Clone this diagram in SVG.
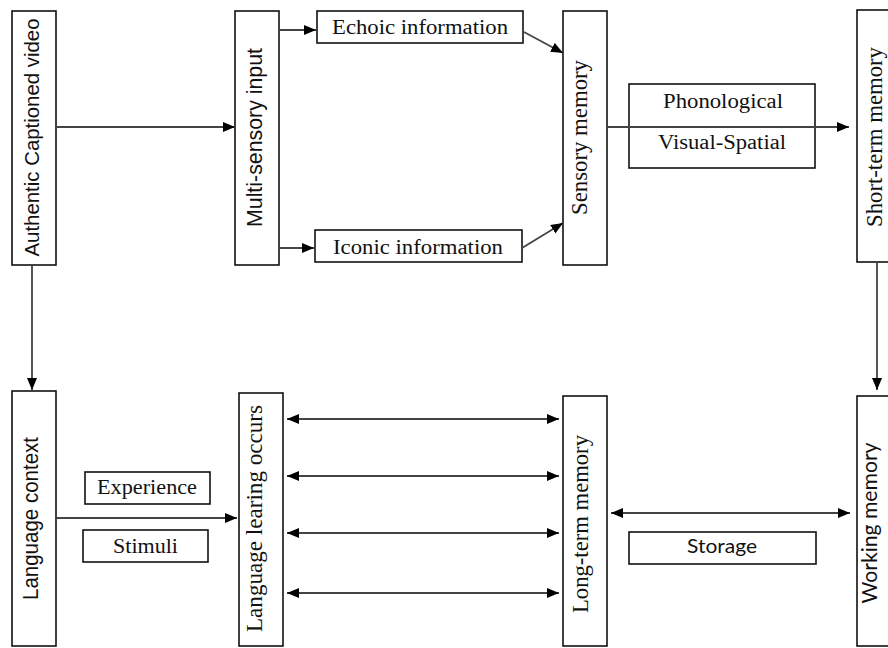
<svg xmlns="http://www.w3.org/2000/svg" width="888" height="648" viewBox="0 0 888 648">
  <style>
    .box { fill: #fff; stroke: #111; stroke-width: 1.6; }
    .serif { font-family: "Liberation Serif", "DejaVu Serif", "Times New Roman", serif; fill: #111; }
    .sans { font-family: "Liberation Sans", Arial, sans-serif; fill: #111; }
    .soft { font-family: Lato, "Open Sans", sans-serif; fill: #111; }
    .link { fill: none; stroke: #444; stroke-width: 1.8; }
  </style>
  <defs>
    <marker id="head" markerUnits="userSpaceOnUse" markerWidth="13" markerHeight="11" refX="12" refY="5" orient="auto-start-reverse">
      <path d="M0,0 L12,5 L0,10 z" fill="#000"/>
    </marker>
  </defs>
  <rect width="888" height="648" fill="#fff"/>

  <!-- top row -->
  <g id="authentic-video">
    <rect class="box" x="12" y="11" width="44" height="254"/>
    <text class="sans" x="39" y="137.5" font-size="21" text-anchor="middle" textLength="238" lengthAdjust="spacingAndGlyphs" transform="rotate(-90 39 137.5)">Authentic Captioned video</text>
  </g>
  <g id="multi-sensory">
    <rect class="box" x="235" y="11" width="44" height="254"/>
    <text class="sans" x="262" y="137.5" font-size="22" text-anchor="middle" textLength="179" lengthAdjust="spacingAndGlyphs" transform="rotate(-90 262 137.5)">Multi-sensory input</text>
  </g>
  <g id="echoic">
    <rect class="box" x="317" y="11" width="206" height="32"/>
    <text class="serif" x="420" y="33.5" font-size="20" text-anchor="middle" textLength="176" lengthAdjust="spacingAndGlyphs">Echoic information</text>
  </g>
  <g id="iconic">
    <rect class="box" x="315" y="230" width="207" height="32"/>
    <text class="serif" x="418" y="253.5" font-size="20" text-anchor="middle" textLength="170" lengthAdjust="spacingAndGlyphs">Iconic information</text>
  </g>
  <g id="sensory-memory">
    <rect class="box" x="563" y="11" width="44" height="254"/>
    <text class="serif" x="586.5" y="137.5" font-size="24" text-anchor="middle" textLength="155" lengthAdjust="spacingAndGlyphs" transform="rotate(-90 586.5 137.5)">Sensory memory</text>
  </g>
  <g id="phonological-visual">
    <rect class="box" x="629" y="84" width="186" height="84"/>
    <text class="serif" x="723" y="107.5" font-size="20" text-anchor="middle" textLength="120" lengthAdjust="spacingAndGlyphs">Phonological</text>
    <text class="serif" x="722" y="149" font-size="20" text-anchor="middle" textLength="128" lengthAdjust="spacingAndGlyphs">Visual-Spatial</text>
  </g>
  <g id="short-term-memory">
    <rect class="box" x="857" y="10" width="44" height="252"/>
    <text class="serif" x="881.5" y="137" font-size="24" text-anchor="middle" textLength="180" lengthAdjust="spacingAndGlyphs" transform="rotate(-90 881.5 137)">Short-term memory</text>
  </g>

  <!-- bottom row -->
  <g id="language-context">
    <rect class="box" x="12" y="391" width="44" height="255"/>
    <text class="sans" x="37.5" y="518.5" font-size="22" text-anchor="middle" textLength="163" lengthAdjust="spacingAndGlyphs" transform="rotate(-90 37.5 518.5)">Language context</text>
  </g>
  <g id="experience">
    <rect class="box" x="85" y="472" width="125" height="32"/>
    <text class="serif" x="147" y="493.5" font-size="20" text-anchor="middle" textLength="100" lengthAdjust="spacingAndGlyphs">Experience</text>
  </g>
  <g id="stimuli">
    <rect class="box" x="83" y="530" width="125" height="32"/>
    <text class="serif" x="145.5" y="552.5" font-size="20" text-anchor="middle" textLength="65" lengthAdjust="spacingAndGlyphs">Stimuli</text>
  </g>
  <g id="language-learning">
    <rect class="box" x="239" y="393" width="44" height="253"/>
    <text class="serif" x="262" y="518.5" font-size="24" text-anchor="middle" textLength="227" lengthAdjust="spacingAndGlyphs" transform="rotate(-90 262 518.5)">Language learing occurs</text>
  </g>
  <g id="long-term-memory">
    <rect class="box" x="563" y="396" width="44" height="250"/>
    <text class="serif" x="588" y="524" font-size="24" text-anchor="middle" textLength="178" lengthAdjust="spacingAndGlyphs" transform="rotate(-90 588 524)">Long-term memory</text>
  </g>
  <g id="storage">
    <rect class="box" x="629" y="532" width="187" height="32"/>
    <text class="soft" x="722" y="553" font-size="20" text-anchor="middle" textLength="70" lengthAdjust="spacingAndGlyphs">Storage</text>
  </g>
  <g id="working-memory">
    <rect class="box" x="857" y="396" width="44" height="250"/>
    <text class="soft" x="877" y="523" font-size="22" text-anchor="middle" textLength="161" lengthAdjust="spacingAndGlyphs" transform="rotate(-90 877 523)">Working memory</text>
  </g>

  <!-- connectors, drawn last so the sensory-to-short-term line crosses the phonological box -->
  <g id="connectors">
    <line class="link" x1="56" y1="127" x2="235" y2="127" marker-end="url(#head)"/>
    <line class="link" x1="279" y1="30" x2="316" y2="30" marker-end="url(#head)"/>
    <line class="link" x1="279" y1="248" x2="314" y2="248" marker-end="url(#head)"/>
    <line class="link" x1="524" y1="32" x2="563" y2="53" marker-end="url(#head)"/>
    <line class="link" x1="522" y1="248" x2="563" y2="223" marker-end="url(#head)"/>
    <line class="link" x1="608" y1="127" x2="849" y2="127" marker-end="url(#head)"/>
    <line class="link" x1="877" y1="263" x2="877" y2="390" marker-end="url(#head)"/>
    <line class="link" x1="32" y1="266" x2="32" y2="390" marker-end="url(#head)"/>
    <line class="link" x1="57" y1="518" x2="237" y2="518" marker-end="url(#head)"/>
    <line class="link" x1="287" y1="419" x2="559" y2="419" marker-start="url(#head)" marker-end="url(#head)"/>
    <line class="link" x1="287" y1="476" x2="559" y2="476" marker-start="url(#head)" marker-end="url(#head)"/>
    <line class="link" x1="287" y1="533" x2="559" y2="533" marker-start="url(#head)" marker-end="url(#head)"/>
    <line class="link" x1="287" y1="593" x2="559" y2="593" marker-start="url(#head)" marker-end="url(#head)"/>
    <line class="link" x1="611" y1="513" x2="850" y2="513" marker-start="url(#head)" marker-end="url(#head)"/>
  </g>
</svg>
